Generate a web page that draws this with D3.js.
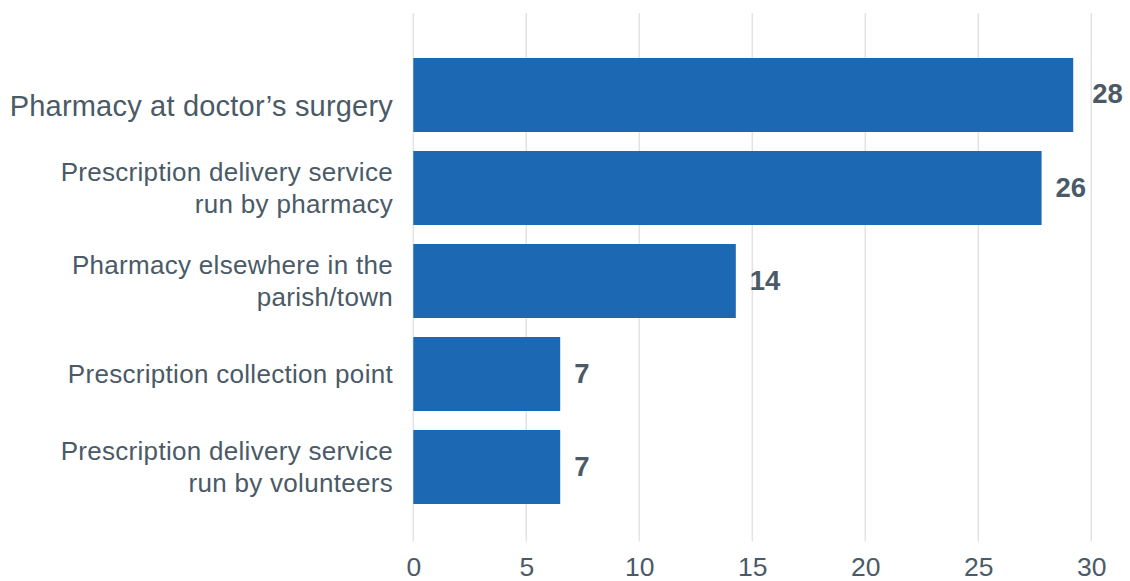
<!DOCTYPE html>
<html>
<head>
<meta charset="utf-8">
<script src="https://cdn.jsdelivr.net/npm/d3@7"></script>
<style>
  html, body { margin: 0; padding: 0; background: #fff; }
  svg { display: block; font-family: "Liberation Sans", Arial, Helvetica, sans-serif; }
</style>
</head>
<body>
<svg id="chart" width="1130" height="581"></svg>
<script>
const categories = [
  "Pharmacy at doctor’s surgery",
  "Prescription delivery service\nrun by pharmacy",
  "Pharmacy elsewhere in the\nparish/town",
  "Prescription collection point",
  "Prescription delivery service\nrun by volunteers"
];
const values = [29.2, 27.8, 14.27, 6.5, 6.5];
const valueLabels = ["28", "26", "14", "7", "7"];
const xTicks = [0, 5, 10, 15, 20, 25, 30];

const svg = d3.select("#chart");
const x = d3.scaleLinear().domain([0, 30]).range([413.3, 1091.3]);
const y = d3.scaleBand().domain(categories).range([46.84, 515.16]).paddingInner(0.2043).paddingOuter(0.12);

const textColor = "#4a5a67";

// gridlines
svg.append("g").selectAll("line").data(xTicks).join("line")
  .attr("x1", d => x(d)).attr("x2", d => x(d))
  .attr("y1", 13).attr("y2", 541.5)
  .attr("stroke", "#e2e3e8").attr("stroke-width", 1.5);

// x axis labels via d3 axis
const xAxis = d3.axisBottom(x).tickValues(xTicks).tickSize(0).tickPadding(0);
const gx = svg.append("g").attr("transform", "translate(0,560)").call(xAxis);
gx.select(".domain").remove();
gx.selectAll("text")
  .attr("font-size", 26.5)
  .attr("fill", textColor)
  .attr("font-family", "Liberation Sans, Arial, sans-serif")
  .attr("dy", "0.35em")
  .attr("y", 6.5);

// bars
svg.append("g").selectAll("rect").data(categories).join("rect")
  .attr("x", x(0))
  .attr("y", d => y(d))
  .attr("width", (d, i) => x(values[i]) - x(0))
  .attr("height", y.bandwidth())
  .attr("fill", "#1c68b3");

// value labels
svg.append("g").selectAll("text").data(categories).join("text")
  .attr("x", (d, i) => x(values[i]) + (i === 0 ? 19 : 14))
  .attr("y", (d, i) => y(d) + y.bandwidth() / 2 - (i === 0 ? 2 : 1))
  .attr("dy", "0.35em")
  .attr("font-size", 27.5)
  .attr("font-weight", "bold")
  .attr("fill", textColor)
  .text((d, i) => valueLabels[i]);

// category labels
const cat = svg.append("g").selectAll("text").data(categories).join("text")
  .attr("text-anchor", "end")
  .attr("fill", textColor)
  .attr("x", 393)
  .attr("font-size", (d, i) => i === 0 ? 29 : 26)
  .attr("letter-spacing", (d, i) => i === 0 ? 0.2 : 0.3);

cat.each(function(d, i) {
  const lines = d.split("\n");
  const t = d3.select(this);
  const cy = y(d) + y.bandwidth() / 2 + (i === 0 ? 11 : 0);
  const lh = 32;
  lines.forEach((ln, j) => {
    t.append("tspan")
      .attr("x", 393)
      .attr("y", cy + (j - (lines.length - 1) / 2) * lh)
      .attr("dy", "0.35em")
      .text(ln);
  });
});
</script>
</body>
</html>
